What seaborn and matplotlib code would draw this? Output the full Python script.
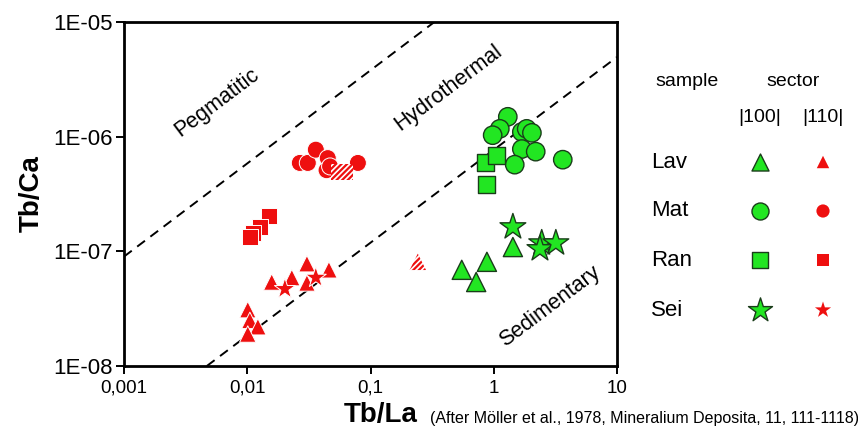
import numpy as np
import pandas as pd
import seaborn as sns
import matplotlib.pyplot as plt
from matplotlib.ticker import FixedLocator, FixedFormatter, NullLocator

# values (Tb/La, Tb/Ca)
lav100_x = [0.55, 0.88, 0.72, 1.43]
lav100_y = [6.9e-8, 8.1e-8, 5.4e-8, 1.09e-7]
mat100_x = [1.30, 1.12, 0.98, 1.69, 1.85, 2.04, 1.69, 2.19, 1.48, 3.63]
mat100_y = [1.49e-6, 1.17e-6, 1.03e-6, 1.10e-6, 1.17e-6, 1.08e-6, 7.8e-7, 7.4e-7, 5.7e-7, 6.3e-7]
ran100_x = [0.85, 1.06, 0.88]
ran100_y = [6.0e-7, 6.9e-7, 3.8e-7]
sei100_x = [1.43, 2.45, 2.37, 3.19]
sei100_y = [1.63e-7, 1.18e-7, 1.05e-7, 1.18e-7]

lav110_x = [0.0101, 0.0105, 0.0122, 0.0101, 0.0158, 0.0230, 0.0305, 0.0305, 0.046]
lav110_y = [3.1e-8, 2.5e-8, 2.2e-8, 1.9e-8, 5.4e-8, 5.9e-8, 7.8e-8, 5.3e-8, 6.9e-8]
mat110_x = [0.0267, 0.031, 0.036, 0.045, 0.044, 0.047, 0.079]
mat110_y = [5.9e-7, 5.9e-7, 7.7e-7, 6.5e-7, 5.1e-7, 5.5e-7, 5.9e-7]
ran110_x = [0.015, 0.0127, 0.0111, 0.0105]
ran110_y = [2.04e-7, 1.63e-7, 1.45e-7, 1.34e-7]
sei110_x = [0.0202, 0.036]
sei110_y = [4.7e-8, 5.9e-8]

hatch_sq_x = [0.055, 0.062]
hatch_sq_y = [4.9e-7, 4.9e-7]
hatch_tri_x = [0.242]
hatch_tri_y = [8.1e-8]

# boundary lines (endpoints)
upper_x = [0.001, 0.33]
upper_y = [9.0e-8, 1e-5]
lower_x = [0.0047, 10]
lower_y = [1e-8, 4.95e-6]

samples = ["Lav", "Mat", "Ran", "Sei"]
marks = {"Lav": "^", "Mat": "o", "Ran": "s", "Sei": "*"}
green = "#22e622"
red = "#ee0f0f"

df100 = pd.concat([
    pd.DataFrame({"x": lav100_x, "y": lav100_y, "sample": "Lav"}),
    pd.DataFrame({"x": mat100_x, "y": mat100_y, "sample": "Mat"}),
    pd.DataFrame({"x": ran100_x, "y": ran100_y, "sample": "Ran"}),
    pd.DataFrame({"x": sei100_x, "y": sei100_y, "sample": "Sei"}),
])
df110 = pd.concat([
    pd.DataFrame({"x": lav110_x, "y": lav110_y, "sample": "Lav"}),
    pd.DataFrame({"x": mat110_x, "y": mat110_y, "sample": "Mat"}),
    pd.DataFrame({"x": ran110_x, "y": ran110_y, "sample": "Ran"}),
    pd.DataFrame({"x": sei110_x, "y": sei110_y, "sample": "Sei"}),
])

sns.set_style("white")
plt.rcParams["font.family"] = ["Liberation Sans", "DejaVu Sans"]
plt.rcParams["hatch.linewidth"] = 1.6
for key in ["text.color", "axes.labelcolor", "xtick.color", "ytick.color"]:
    plt.rcParams[key] = "black"

fig = plt.figure(figsize=(8.58, 4.33), dpi=100)
ax = fig.add_axes([124 / 858, 1 - 366 / 433, 493 / 858, 344 / 433])
ax.set_xscale("log")
ax.set_yscale("log")

ax.plot(upper_x, upper_y, color="black", lw=1.4, dashes=(5, 3.5))
ax.plot(lower_x, lower_y, color="black", lw=1.4, dashes=(5, 3.5))

sizes100 = {"Lav": 190, "Mat": 175, "Ran": 150, "Sei": 380}
sizes110 = {"Lav": 140, "Mat": 150, "Ran": 125, "Sei": 250}
sns.scatterplot(data=df100, x="x", y="y", style="sample", markers=marks,
                size="sample", sizes=sizes100, color=green, edgecolor="#1a3d1a",
                linewidth=1.0, legend=False, ax=ax, zorder=3)
sns.scatterplot(data=df110, x="x", y="y", style="sample", markers=marks,
                size="sample", sizes=sizes110, color=red, edgecolor="white",
                linewidth=0.7, legend=False, ax=ax, zorder=3)
ax.scatter(hatch_sq_x, hatch_sq_y, marker="s", s=125, facecolor="white",
           edgecolor=red, hatch="//////", linewidth=0, zorder=3)
ax.scatter(hatch_tri_x, hatch_tri_y, marker="^", s=140, facecolor="white",
           edgecolor=red, hatch="//////", linewidth=0, zorder=3)

ax.set_xlim(0.001, 10)
ax.set_ylim(1e-8, 1e-5)
ax.xaxis.set_major_locator(FixedLocator([0.001, 0.01, 0.1, 1, 10]))
ax.xaxis.set_major_formatter(FixedFormatter(["0,001", "0,01", "0,1", "1", "10"]))
ax.yaxis.set_major_locator(FixedLocator([1e-8, 1e-7, 1e-6, 1e-5]))
ax.yaxis.set_major_formatter(FixedFormatter(["1E-08", "1E-07", "1E-06", "1E-05"]))
ax.xaxis.set_minor_locator(NullLocator())
ax.yaxis.set_minor_locator(NullLocator())
ax.tick_params(axis="both", direction="out", length=6, width=1.4, color="black",
               left=True, bottom=True)
ax.tick_params(axis="x", labelsize=13.5, pad=4)
ax.tick_params(axis="y", labelsize=16, pad=2)
for sp in ax.spines.values():
    sp.set_linewidth(2)
    sp.set_color("black")

ax.set_xlabel("Tb/La", fontsize=20, fontweight="bold")
ax.xaxis.set_label_coords(0.52, -0.105)
ax.set_ylabel("Tb/Ca", fontsize=20, fontweight="bold", labelpad=6)

ax.text(0.0057, 1.97e-6, "Pegmatitic", rotation=37, fontsize=15.5,
        ha="center", va="center")
ax.text(0.425, 2.66e-6, "Hydrothermal", rotation=37, fontsize=15.5,
        ha="center", va="center")
ax.text(2.85, 3.3e-8, "Sedimentary", rotation=37, fontsize=15.5,
        ha="center", va="center")

fig.text(430 / 858, 1 - 418 / 433,
         "(After Möller et al., 1978, Mineralium Deposita, 11, 111-1118)",
         fontsize=11.5, ha="left", va="center")

# legend block on the right, in pixel coordinates
lg = fig.add_axes([0, 0, 1, 1], facecolor="none")
lg.set_xlim(0, 858)
lg.set_ylim(433, 0)
lg.axis("off")
lg.text(687, 81, "sample", fontsize=14, ha="center", va="center")
lg.text(793, 81, "sector", fontsize=14, ha="center", va="center")
lg.text(760, 117, "|100|", fontsize=14, ha="center", va="center")
lg.text(823, 117, "|110|", fontsize=14, ha="center", va="center")
row_y = [162, 211, 260, 310]
leg100 = {"Lav": 150, "Mat": 150, "Ran": 130, "Sei": 330}
leg110 = {"Lav": 80, "Mat": 90, "Ran": 85, "Sei": 150}
for name, yy in zip(samples, row_y):
    lg.text(651, yy, name, fontsize=16, ha="left", va="center")
    lg.scatter([760], [yy], marker=marks[name], s=leg100[name], color=green,
               edgecolor="#1a3d1a", linewidth=1.0)
    lg.scatter([823], [yy], marker=marks[name], s=leg110[name], color=red,
               edgecolor="none")

fig.savefig("out.png", dpi=100)
